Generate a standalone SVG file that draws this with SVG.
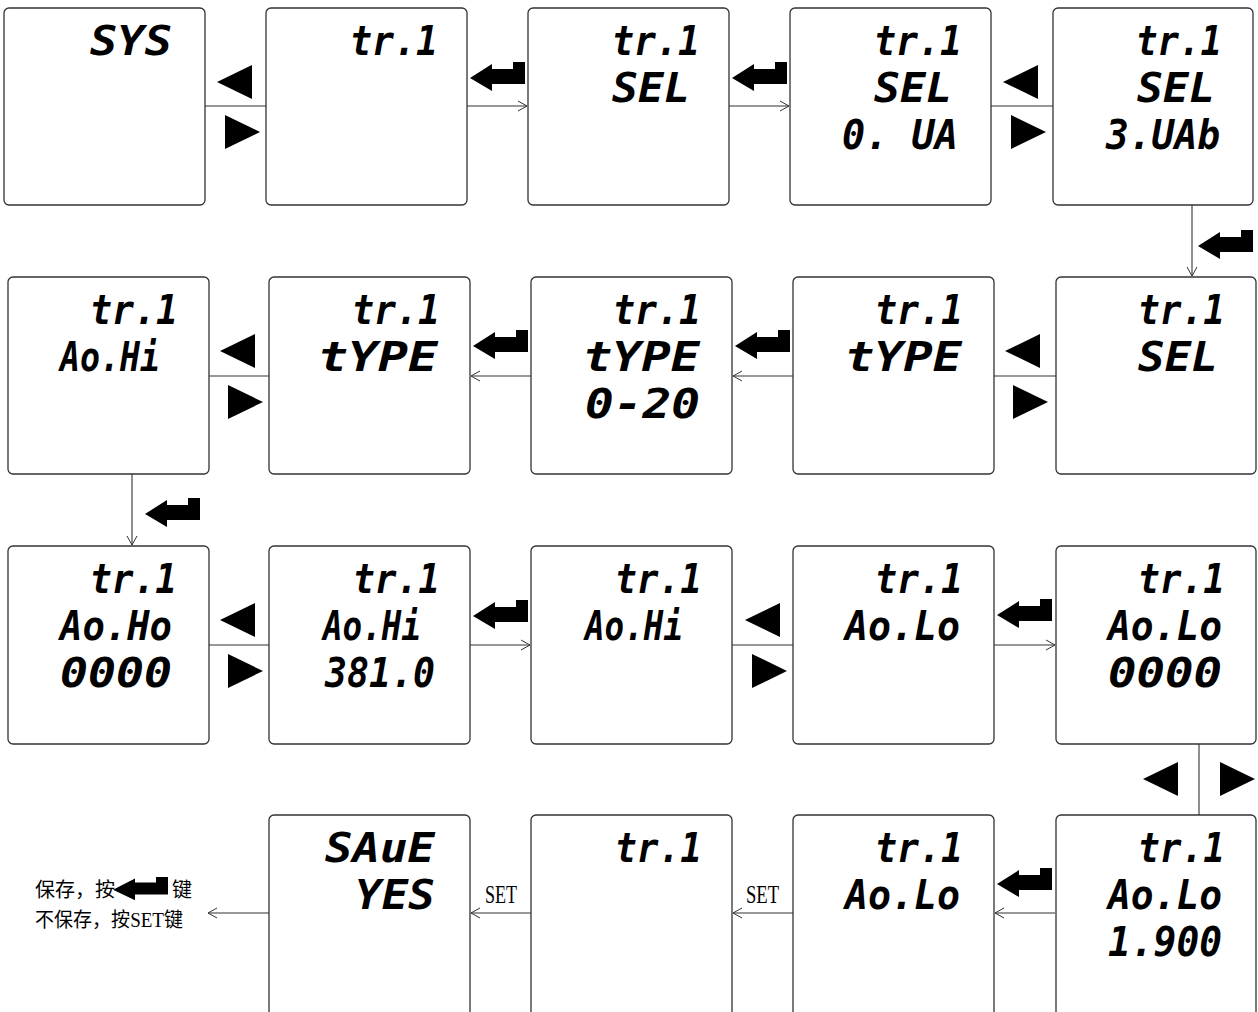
<svg xmlns="http://www.w3.org/2000/svg" width="1258" height="1012" viewBox="0 0 1258 1012">
<style>
.box{fill:#fff;stroke:#333;stroke-width:1.3}
.seg{font-family:"DejaVu Sans Mono",monospace;font-weight:bold;font-style:oblique;font-size:41px;fill:#000}
.ln{stroke:#333;stroke-width:1.1;fill:none}
.lbl{font-family:"Liberation Serif","Noto Sans CJK SC",serif;font-size:20px;fill:#000}
.set{font-family:"Liberation Serif",serif;font-size:25px;fill:#000}
</style>
<defs>
<marker id="ah" markerWidth="10" markerHeight="12" refX="9" refY="6" orient="auto" markerUnits="userSpaceOnUse">
<path d="M0,1 L9,6 L0,11" fill="none" stroke="#333" stroke-width="1"/>
</marker>
<path id="enter" d="M0,16 L22,2 L22,7 L43,7 L43,0 L55,0 L55,22 L22,22 L22,29 Z" fill="#000"/>
<path id="tl" d="M0,17 L35,0 L35,34 Z" fill="#000"/>
<path id="tr" d="M35,17 L0,0 L0,34 Z" fill="#000"/>
</defs>

<g id="connectors">
<line class="ln" x1="205" y1="106" x2="266" y2="106"/>
<line class="ln" x1="467" y1="106" x2="527" y2="106" marker-end="url(#ah)"/>
<line class="ln" x1="729" y1="106" x2="789" y2="106" marker-end="url(#ah)"/>
<line class="ln" x1="991" y1="106" x2="1053" y2="106"/>
<line class="ln" x1="1192" y1="205" x2="1192" y2="276" marker-end="url(#ah)"/>
<line class="ln" x1="1056" y1="376" x2="994" y2="376"/>
<line class="ln" x1="793" y1="376" x2="733" y2="376" marker-end="url(#ah)"/>
<line class="ln" x1="531" y1="376" x2="471" y2="376" marker-end="url(#ah)"/>
<line class="ln" x1="269" y1="376" x2="209" y2="376"/>
<line class="ln" x1="132" y1="474" x2="132" y2="545" marker-end="url(#ah)"/>
<line class="ln" x1="209" y1="645" x2="269" y2="645"/>
<line class="ln" x1="470" y1="645" x2="530" y2="645" marker-end="url(#ah)"/>
<line class="ln" x1="732" y1="645" x2="793" y2="645"/>
<line class="ln" x1="994" y1="645" x2="1055" y2="645" marker-end="url(#ah)"/>
<line class="ln" x1="1199" y1="744" x2="1199" y2="815"/>
<line class="ln" x1="1055" y1="913" x2="995" y2="913" marker-end="url(#ah)"/>
<line class="ln" x1="793" y1="913" x2="733" y2="913" marker-end="url(#ah)"/>
<line class="ln" x1="531" y1="913" x2="471" y2="913" marker-end="url(#ah)"/>
<line class="ln" x1="269" y1="913" x2="208" y2="913" marker-end="url(#ah)"/>

<use href="#tl" x="217" y="65"/><use href="#tr" x="225" y="115"/>
<use href="#tl" x="1003" y="65"/><use href="#tr" x="1011" y="115"/>
<use href="#tl" x="220" y="334"/><use href="#tr" x="228" y="385"/>
<use href="#tl" x="1005" y="334"/><use href="#tr" x="1013" y="385"/>
<use href="#tl" x="220" y="603"/><use href="#tr" x="228" y="654"/>
<use href="#tl" x="745" y="603"/><use href="#tr" x="752" y="654"/>
<use href="#tl" x="1143" y="762"/><use href="#tr" x="1220" y="762"/>

<use href="#enter" x="470" y="62"/>
<use href="#enter" x="732" y="62"/>
<use href="#enter" x="1198" y="230"/>
<use href="#enter" x="735" y="330"/>
<use href="#enter" x="473" y="330"/>
<use href="#enter" x="145" y="498"/>
<use href="#enter" x="473" y="600"/>
<use href="#enter" x="997" y="599"/>
<use href="#enter" x="997" y="868"/>

<text class="set" x="485" y="903" textLength="32" lengthAdjust="spacingAndGlyphs">SET</text>
<text class="set" x="746" y="903" textLength="33" lengthAdjust="spacingAndGlyphs">SET</text>
</g>

<g id="note">
<text class="lbl" x="35" y="897">保存，按</text>
<use href="#enter" transform="translate(113,877) scale(1,0.8)"/>
<text class="lbl" x="172" y="897">键</text>
<text class="lbl" x="35" y="927" textLength="148" lengthAdjust="spacingAndGlyphs">不保存，按SET键</text>
</g>

<g id="r1b1"><rect class="box" x="4" y="8" width="201" height="197" rx="5"/>
<text class="seg" x="90" y="55" textLength="82" lengthAdjust="spacingAndGlyphs">SYS</text></g>
<g id="r1b2"><rect class="box" x="266" y="8" width="201" height="197" rx="5"/>
<text class="seg" x="350" y="55" textLength="88" lengthAdjust="spacingAndGlyphs">tr.1</text></g>
<g id="r1b3"><rect class="box" x="528" y="8" width="201" height="197" rx="5"/>
<text class="seg" x="612" y="55" textLength="88" lengthAdjust="spacingAndGlyphs">tr.1</text>
<text class="seg" x="612" y="102" textLength="78" lengthAdjust="spacingAndGlyphs">SEL</text></g>
<g id="r1b4"><rect class="box" x="790" y="8" width="201" height="197" rx="5"/>
<text class="seg" x="874" y="55" textLength="88" lengthAdjust="spacingAndGlyphs">tr.1</text>
<text class="seg" x="874" y="102" textLength="78" lengthAdjust="spacingAndGlyphs">SEL</text>
<text class="seg" x="842" y="149" textLength="116" lengthAdjust="spacingAndGlyphs">0. UA</text></g>
<g id="r1b5"><rect class="box" x="1053" y="8" width="200" height="197" rx="5"/>
<text class="seg" x="1136" y="55" textLength="86" lengthAdjust="spacingAndGlyphs">tr.1</text>
<text class="seg" x="1137" y="102" textLength="78" lengthAdjust="spacingAndGlyphs">SEL</text>
<text class="seg" x="1106" y="149" textLength="114" lengthAdjust="spacingAndGlyphs">3.UAb</text></g>

<g id="r2b1"><rect class="box" x="8" y="277" width="201" height="197" rx="5"/>
<text class="seg" x="90" y="324" textLength="88" lengthAdjust="spacingAndGlyphs">tr.1</text>
<text class="seg" x="60" y="371" textLength="100" lengthAdjust="spacingAndGlyphs">Ao.Hi</text></g>
<g id="r2b2"><rect class="box" x="269" y="277" width="201" height="197" rx="5"/>
<text class="seg" x="352" y="324" textLength="88" lengthAdjust="spacingAndGlyphs">tr.1</text>
<text class="seg" x="318" y="371" textLength="120" lengthAdjust="spacingAndGlyphs">tYPE</text></g>
<g id="r2b3"><rect class="box" x="531" y="277" width="201" height="197" rx="5"/>
<text class="seg" x="613" y="324" textLength="88" lengthAdjust="spacingAndGlyphs">tr.1</text>
<text class="seg" x="583" y="371" textLength="117" lengthAdjust="spacingAndGlyphs">tYPE</text>
<text class="seg" x="585" y="418" textLength="115" lengthAdjust="spacingAndGlyphs">0-20</text></g>
<g id="r2b4"><rect class="box" x="793" y="277" width="201" height="197" rx="5"/>
<text class="seg" x="875" y="324" textLength="88" lengthAdjust="spacingAndGlyphs">tr.1</text>
<text class="seg" x="845" y="371" textLength="117" lengthAdjust="spacingAndGlyphs">tYPE</text></g>
<g id="r2b5"><rect class="box" x="1056" y="277" width="200" height="197" rx="5"/>
<text class="seg" x="1138" y="324" textLength="87" lengthAdjust="spacingAndGlyphs">tr.1</text>
<text class="seg" x="1138" y="371" textLength="80" lengthAdjust="spacingAndGlyphs">SEL</text></g>

<g id="r3b1"><rect class="box" x="8" y="546" width="201" height="198" rx="5"/>
<text class="seg" x="90" y="593" textLength="87" lengthAdjust="spacingAndGlyphs">tr.1</text>
<text class="seg" x="60" y="640" textLength="112" lengthAdjust="spacingAndGlyphs">Ao.Ho</text>
<text class="seg" x="60" y="687" textLength="112" lengthAdjust="spacingAndGlyphs">0000</text></g>
<g id="r3b2"><rect class="box" x="269" y="546" width="201" height="198" rx="5"/>
<text class="seg" x="353" y="593" textLength="87" lengthAdjust="spacingAndGlyphs">tr.1</text>
<text class="seg" x="323" y="640" textLength="98" lengthAdjust="spacingAndGlyphs">Ao.Hi</text>
<text class="seg" x="325" y="687" textLength="110" lengthAdjust="spacingAndGlyphs">381.0</text></g>
<g id="r3b3"><rect class="box" x="531" y="546" width="201" height="198" rx="5"/>
<text class="seg" x="615" y="593" textLength="87" lengthAdjust="spacingAndGlyphs">tr.1</text>
<text class="seg" x="585" y="640" textLength="98" lengthAdjust="spacingAndGlyphs">Ao.Hi</text></g>
<g id="r3b4"><rect class="box" x="793" y="546" width="201" height="198" rx="5"/>
<text class="seg" x="875" y="593" textLength="88" lengthAdjust="spacingAndGlyphs">tr.1</text>
<text class="seg" x="845" y="640" textLength="115" lengthAdjust="spacingAndGlyphs">Ao.Lo</text></g>
<g id="r3b5"><rect class="box" x="1056" y="546" width="200" height="198" rx="5"/>
<text class="seg" x="1138" y="593" textLength="87" lengthAdjust="spacingAndGlyphs">tr.1</text>
<text class="seg" x="1108" y="640" textLength="114" lengthAdjust="spacingAndGlyphs">Ao.Lo</text>
<text class="seg" x="1108" y="687" textLength="114" lengthAdjust="spacingAndGlyphs">0000</text></g>

<g id="r4b2"><rect class="box" x="269" y="815" width="201" height="202" rx="5"/>
<text class="seg" x="325" y="862" textLength="110" lengthAdjust="spacingAndGlyphs">SAuE</text>
<text class="seg" x="355" y="909" textLength="80" lengthAdjust="spacingAndGlyphs">YES</text></g>
<g id="r4b3"><rect class="box" x="531" y="815" width="201" height="202" rx="5"/>
<text class="seg" x="615" y="862" textLength="87" lengthAdjust="spacingAndGlyphs">tr.1</text></g>
<g id="r4b4"><rect class="box" x="793" y="815" width="201" height="202" rx="5"/>
<text class="seg" x="875" y="862" textLength="88" lengthAdjust="spacingAndGlyphs">tr.1</text>
<text class="seg" x="845" y="909" textLength="115" lengthAdjust="spacingAndGlyphs">Ao.Lo</text></g>
<g id="r4b5"><rect class="box" x="1056" y="815" width="200" height="202" rx="5"/>
<text class="seg" x="1138" y="862" textLength="87" lengthAdjust="spacingAndGlyphs">tr.1</text>
<text class="seg" x="1108" y="909" textLength="114" lengthAdjust="spacingAndGlyphs">Ao.Lo</text>
<text class="seg" x="1108" y="956" textLength="114" lengthAdjust="spacingAndGlyphs">1.900</text></g>
</svg>
